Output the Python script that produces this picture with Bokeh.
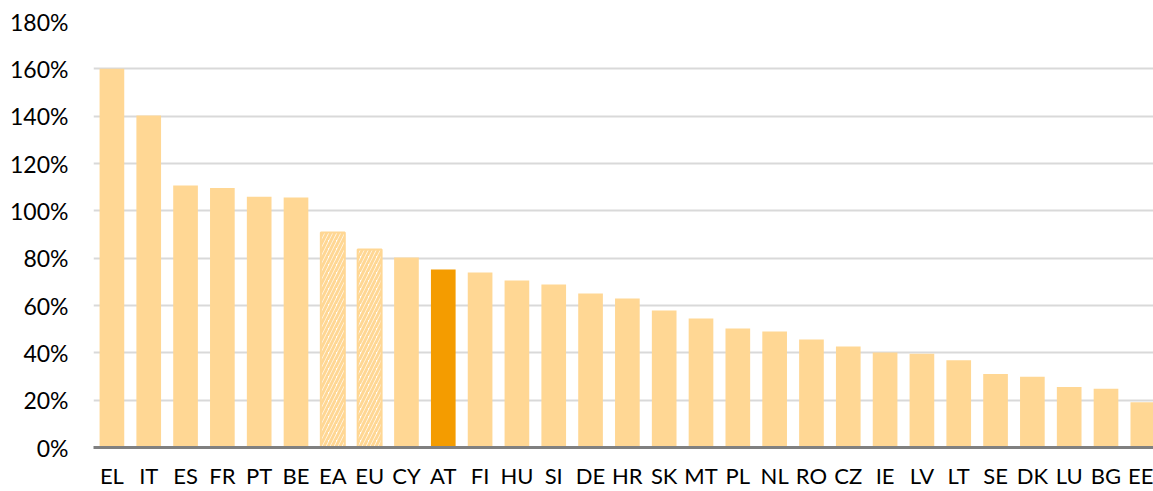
from bokeh.plotting import figure
from bokeh.models import ColumnDataSource, Range1d, FixedTicker
from bokeh.embed import file_html
from bokeh.resources import INLINE

categories = ["EL", "IT", "ES", "FR", "PT", "BE", "EA", "EU", "CY", "AT", "FI", "HU", "SI", "DE",
              "HR", "SK", "MT", "PL", "NL", "RO", "CZ", "IE", "LV", "LT", "SE", "DK", "LU", "BG", "EE"]
values = [160.0, 140.3, 110.7, 109.6, 106.0, 105.6, 90.8, 83.7, 80.3, 75.2, 73.9, 70.6, 68.9, 65.1,
          63.0, 57.9, 54.5, 50.3, 49.0, 45.6, 42.7, 40.1, 39.6, 36.9, 31.1, 29.9, 25.6, 24.8, 19.1]
aggregates = ["EA", "EU"]
highlight = "AT"
y_ticks = [0, 20, 40, 60, 80, 100, 120, 140, 160, 180]

LIGHT = "#FFD794"
ORANGE = "#F49C00"
FONT = "Lato"

xs = list(range(len(categories)))
plain = dict(x=[], top=[], color=[])
hatched = dict(x=[], top=[])
for i, (c, v) in enumerate(zip(categories, values)):
    if c in aggregates:
        hatched["x"].append(i)
        hatched["top"].append(v)
    else:
        plain["x"].append(i)
        plain["top"].append(v)
        plain["color"].append(ORANGE if c == highlight else LIGHT)

p = figure(width=1153, height=491, output_backend="svg", toolbar_location=None,
           x_range=Range1d(-0.5, 28.29), y_range=Range1d(0, 180),
           min_border_left=93, min_border_right=0, min_border_top=21, min_border_bottom=44)
p.outline_line_color = None
p.background_fill_color = "white"
p.border_fill_color = "white"

p.vbar(x="x", top="top", bottom=0, width=0.67, fill_color="color", line_color=None,
       source=ColumnDataSource(plain))
p.vbar(x="x", top="top", bottom=0, width=0.65, fill_color="white", line_color=LIGHT, line_width=2,
       hatch_pattern="/", hatch_color=LIGHT, hatch_scale=8, hatch_weight=3,
       source=ColumnDataSource(hatched))

p.xgrid.grid_line_color = None
p.ygrid.grid_line_color = "#D9D9D9"
p.ygrid.grid_line_width = 2
p.ygrid.ticker = FixedTicker(ticks=y_ticks)

p.yaxis.ticker = FixedTicker(ticks=y_ticks)
p.yaxis.major_label_overrides = {t: f"{t}%" for t in y_ticks}
p.yaxis.axis_line_color = None
p.yaxis.major_tick_line_color = None
p.yaxis.minor_tick_line_color = None
p.yaxis.major_tick_out = 0
p.yaxis.major_tick_in = 0
p.yaxis.major_label_standoff = 25
p.yaxis.major_label_text_font = FONT
p.yaxis.major_label_text_font_size = "23px"
p.yaxis.major_label_text_color = "#000000"

p.xaxis.ticker = FixedTicker(ticks=xs)
p.xaxis.major_label_overrides = {i: c for i, c in enumerate(categories)}
p.xaxis.axis_line_color = "#808080"
p.xaxis.axis_line_width = 3
p.xaxis.major_tick_line_color = None
p.xaxis.minor_tick_line_color = None
p.xaxis.major_tick_out = 0
p.xaxis.major_tick_in = 0
p.xaxis.major_label_standoff = 14
p.xaxis.major_label_text_font = FONT
p.xaxis.major_label_text_font_size = "22px"
p.xaxis.major_label_text_color = "#000000"

open("out.html", "w").write(file_html(p, INLINE))
